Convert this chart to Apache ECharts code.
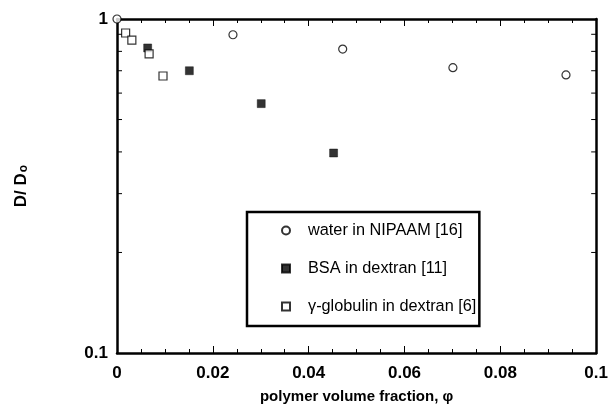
<!DOCTYPE html>
<html>
<head>
<meta charset="utf-8">
<script src="https://cdn.jsdelivr.net/npm/echarts@6/dist/echarts.min.js"></script>
<style>
  html, body { margin: 0; padding: 0; background: #fff; }
  #chart { width: 611px; height: 410px; }
</style>
</head>
<body>
<div id="chart"></div>
<script>
// values
const waterX = [0, 0.0242, 0.0471, 0.0701, 0.0937];
const waterY = [1.0, 0.897, 0.813, 0.715, 0.680];

const bsaX = [0.0064, 0.0151, 0.0301, 0.0452];
const bsaY = [0.819, 0.700, 0.558, 0.397];

const globX = [0.0018, 0.0031, 0.0067, 0.0096];
const globY = [0.908, 0.865, 0.786, 0.675];

const xTicks = { min: 0, max: 0.1, interval: 0.02 };
const yMinorTicks = [0.2, 0.3, 0.4, 0.5, 0.6, 0.7, 0.8, 0.9];

const names = ['water in NIPAAM [16]', 'BSA in dextran [11]', 'γ-globulin in dextran [6]'];

const pairs = (xs, ys) => xs.map((x, i) => [x, ys[i]]);

const font = '"Liberation Sans", Arial, Helvetica, sans-serif';

const chart = echarts.init(document.getElementById('chart'));

const xAxisBase = {
    type: 'value',
    min: xTicks.min,
    max: xTicks.max,
    interval: xTicks.interval,
    splitLine: { show: false },
    axisLine: { onZero: false, lineStyle: { color: '#000', width: 2.5 } },
    axisTick: { inside: true, length: 7, lineStyle: { color: '#000', width: 1 } },
    minorTick: { show: true, splitNumber: 4, length: 4, lineStyle: { color: '#000', width: 1 } },
    minorSplitLine: { show: false }
};

const yAxisBase = {
    type: 'log',
    logBase: 10,
    min: 0.1,
    max: 1,
    splitLine: { show: false },
    axisLine: { onZero: false, lineStyle: { color: '#000', width: 2.5 } },
    axisTick: { inside: true, length: 6, lineStyle: { color: '#000', width: 1 } }
};

const option = {
    animation: false,
    textStyle: { fontFamily: font },
    grid: {
        left: 117,
        right: 14,
        top: 19,
        bottom: 57
    },
    legend: {
        data: names,
        orient: 'vertical',
        left: 247,
        top: 212,
        padding: [10, 3, 11, 34],
        itemGap: 21,
        itemWidth: 8,
        itemHeight: 8,
        borderColor: '#000',
        borderWidth: 2.5,
        textStyle: {
            fontFamily: font,
            fontSize: 16.3,
            color: '#000',
            lineHeight: 17,
            padding: [0, 0, 0, 13]
        }
    },
    xAxis: [
        Object.assign({}, xAxisBase, {
            position: 'bottom',
            name: 'polymer volume fraction, φ',
            nameLocation: 'middle',
            nameGap: 36,
            nameTextStyle: { fontFamily: font, fontSize: 15, fontWeight: 'bold', color: '#000' },
            axisLabel: {
                margin: 12,
                fontFamily: font,
                fontSize: 17,
                fontWeight: 'bold',
                color: '#000',
                formatter: v => String(+v.toFixed(2))
            }
        }),
        Object.assign({}, xAxisBase, {
            position: 'top',
            axisLabel: { show: false }
        })
    ],
    yAxis: [
        Object.assign({}, yAxisBase, {
            position: 'left',
            name: 'D/ D{s|o}',
            nameLocation: 'middle',
            nameGap: 87,
            nameTextStyle: {
                fontFamily: font,
                fontSize: 17,
                fontWeight: 'bold',
                color: '#000',
                rich: {
                    s: { fontFamily: font, fontSize: 12, fontWeight: 'bold', color: '#000', padding: [6, 0, 0, 1] }
                }
            },
            axisLabel: {
                margin: 9,
                fontFamily: font,
                fontSize: 17,
                fontWeight: 'bold',
                color: '#000',
                formatter: v => String(v)
            }
        }),
        Object.assign({}, yAxisBase, {
            position: 'right',
            axisLabel: { show: false }
        })
    ],
    series: [
        {
            name: names[0],
            type: 'scatter',
            clip: false,
            symbol: 'circle',
            symbolSize: 8,
            itemStyle: { color: '#fff', borderColor: '#000', borderWidth: 1.2 },
            data: pairs(waterX, waterY)
        },
        {
            name: names[1],
            type: 'scatter',
            clip: false,
            symbol: 'rect',
            symbolSize: 8,
            itemStyle: { color: '#000', borderColor: '#000', borderWidth: 0.5 },
            data: pairs(bsaX, bsaY)
        },
        {
            name: names[2],
            type: 'scatter',
            clip: false,
            symbol: 'rect',
            symbolSize: 8,
            itemStyle: { color: '#fff', borderColor: '#000', borderWidth: 1.2 },
            data: pairs(globX, globY)
        },
        {
            // log minor ticks on left and right frame
            type: 'custom',
            silent: true,
            clip: false,
            data: yMinorTicks.map(v => [xTicks.min, v]),
            encode: { x: 0, y: 1 },
            renderItem: (params, api) => {
                const v = api.value(1);
                const l = api.coord([xTicks.min, v]);
                const r = api.coord([xTicks.max, v]);
                const st = { stroke: '#000', lineWidth: 1 };
                return {
                    type: 'group',
                    children: [
                        { type: 'line', shape: { x1: l[0], y1: l[1], x2: l[0] + 5, y2: l[1] }, style: st },
                        { type: 'line', shape: { x1: r[0], y1: r[1], x2: r[0] - 5, y2: r[1] }, style: st }
                    ]
                };
            }
        }
    ]
};

chart.setOption(option);
</script>
</body>
</html>
